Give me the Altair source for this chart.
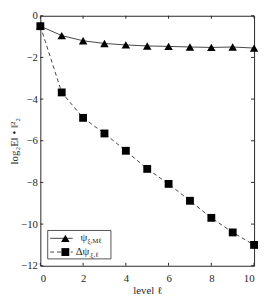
import altair as alt
import pandas as pd

levels = list(range(11))
psi = [-0.5, -0.95, -1.2, -1.33, -1.4, -1.45, -1.47, -1.5, -1.52, -1.5, -1.55]
dpsi = [-0.5, -3.68, -4.9, -5.65, -6.48, -7.35, -8.07, -8.88, -9.7, -10.4, -11.0]
xticks = [0, 2, 4, 6, 8, 10]
yticks = [0, -2, -4, -6, -8, -10, -12]

W, H = 218, 255
FONT = "Liberation Serif, Times New Roman, DejaVu Serif, serif"
INK = "#262626"

df_psi = pd.DataFrame({"level": levels, "value": psi})
df_dpsi = pd.DataFrame({"level": levels, "value": dpsi})
one = pd.DataFrame({"a": [0]})

xs = alt.Scale(domain=[0, 10], nice=False, zero=False)
ys = alt.Scale(domain=[-12, 0], nice=False, zero=False)

x_axis = alt.Axis(
    values=xticks, ticks=False, domain=False, grid=False,
    labelFont=FONT, labelFontSize=11, labelColor=INK, labelPadding=7,
    title="level ℓ", titleFont=FONT, titleFontSize=11, titleFontWeight="normal",
    titleColor=INK, titlePadding=1)
y_axis = alt.Axis(
    values=yticks, ticks=False, domain=False, grid=False,
    labelFont=FONT, labelFontSize=11, labelColor=INK, labelPadding=3,
    title="log₂E‖ • ‖²₂", titleFont=FONT, titleFontSize=11, titleFontWeight="normal",
    titleColor=INK, titlePadding=1)
x_enc = alt.X("level:Q", scale=xs, axis=x_axis)
y_enc = alt.Y("value:Q", scale=ys, axis=y_axis)

psi_line = alt.Chart(df_psi).mark_line(color="#444444", strokeWidth=1).encode(x=x_enc, y=y_enc)
psi_pts = alt.Chart(df_psi).mark_point(shape="triangle-up", filled=True, color="black", opacity=1, size=75).encode(x=x_enc, y=y_enc)
dpsi_line = alt.Chart(df_dpsi).mark_line(color="#444444", strokeWidth=1, strokeDash=[4, 3]).encode(x=x_enc, y=y_enc)
dpsi_pts = alt.Chart(df_dpsi).mark_square(color="black", opacity=1, size=64).encode(x=x_enc, y=y_enc)

dx = pd.DataFrame({"level": xticks})
dy = pd.DataFrame({"value": yticks})
tb = alt.Chart(dx).mark_rule(color=INK, strokeWidth=1).encode(
    x=x_enc, y=alt.value(H), y2=alt.value(H - 3))
tt = alt.Chart(dx).mark_rule(color=INK, strokeWidth=1).encode(
    x=x_enc, y=alt.value(0), y2=alt.value(3))
tl = alt.Chart(dy).mark_rule(color=INK, strokeWidth=1).encode(
    y=y_enc, x=alt.value(0), x2=alt.value(3))
tr = alt.Chart(dy).mark_rule(color=INK, strokeWidth=1).encode(
    y=y_enc, x=alt.value(W), x2=alt.value(W - 3))

# legend
LY1, LY2 = 227, 241
box = alt.Chart(one).mark_rect(fill="white", stroke=INK, strokeWidth=0.8).encode(
    x=alt.value(7.5), x2=alt.value(72), y=alt.value(LY1 - 8), y2=alt.value(LY2 + 7))
l1 = alt.Chart(one).mark_rule(color="#444444", strokeWidth=1).encode(
    x=alt.value(10), x2=alt.value(33), y=alt.value(LY1))
p1 = alt.Chart(one).mark_point(shape="triangle-up", filled=True, color="black", opacity=1, size=75).encode(
    x=alt.value(25.5), y=alt.value(LY1))
t1 = alt.Chart(one).mark_text(align="left", baseline="middle", font=FONT, fontSize=11, color=INK).encode(
    x=alt.value(41), y=alt.value(LY1), text=alt.value("ψ"))
s1 = alt.Chart(one).mark_text(align="left", baseline="middle", font=FONT, fontSize=7, color=INK).encode(
    x=alt.value(48), y=alt.value(LY1 + 3), text=alt.value("ξ,Mℓ"))
l2 = alt.Chart(one).mark_rule(color="#444444", strokeWidth=1, strokeDash=[4, 3]).encode(
    x=alt.value(10), x2=alt.value(33), y=alt.value(LY2))
p2 = alt.Chart(one).mark_square(color="black", opacity=1, size=64).encode(
    x=alt.value(25.5), y=alt.value(LY2))
t2 = alt.Chart(one).mark_text(align="left", baseline="middle", font=FONT, fontSize=11, color=INK).encode(
    x=alt.value(36), y=alt.value(LY2), text=alt.value("Δψ"))
s2 = alt.Chart(one).mark_text(align="left", baseline="middle", font=FONT, fontSize=7, color=INK).encode(
    x=alt.value(51), y=alt.value(LY2 + 3), text=alt.value("ξ,ℓ"))

chart = alt.layer(
    psi_line, dpsi_line, psi_pts, dpsi_pts, tb, tt, tl, tr,
    box, l1, l2, p1, p2, t1, s1, t2, s2
).properties(
    width=W, height=H,
    autosize=alt.AutoSizeParams(type="none"),
    padding={"left": 33, "top": 5, "right": 4, "bottom": 32},
    background="white",
).configure_view(stroke=INK, strokeWidth=1)

chart.save("out.html", embed_options={"renderer": "svg", "actions": False})
